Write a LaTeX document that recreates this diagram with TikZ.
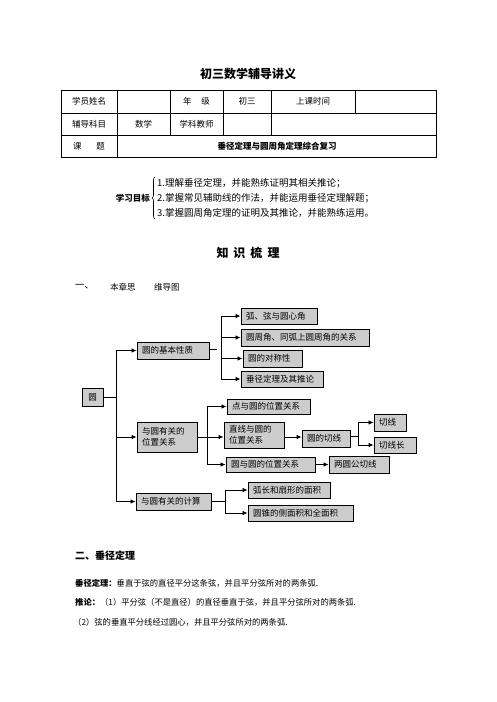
\documentclass[tikz,border=0pt]{standalone}
\usepackage{fontspec}
\newfontfamily\cjk{Noto Sans CJK SC}
\usetikzlibrary{arrows.meta,decorations.pathreplacing}
\tikzset{
  box/.style={draw, fill=gray!40, line width=0.9pt, inner xsep=5pt, inner ysep=0pt, align=left, font=\cjk\fontsize{8.5}{11}\selectfont},
  arr/.style={-{Latex[length=5pt,width=4.5pt]}, line width=0.8pt},
  ln/.style={line width=0.8pt},
  tbl/.style={line width=0.8pt},
  ttxt/.style={font=\cjk\fontsize{8.5}{10}\selectfont, inner sep=0pt},
  btxt/.style={font=\cjk\fontsize{8.3}{10}\selectfont, inner sep=0pt, anchor=west}
}
\begin{document}
\begin{tikzpicture}[x=1pt,y=-1pt]
\useasboundingbox[fill=white] (0,0) rectangle (496,702);

% title
\node[font=\cjk\bfseries\fontsize{12}{14}\selectfont] (title) at (248,74) {初三数学辅导讲义};

% table
\draw[tbl] (61,90) rectangle (436,157);
\draw[tbl] (61,113) -- (436,113);
\draw[tbl] (61,135) -- (436,135);
\draw[tbl] (117,90) -- (117,157);
\draw[tbl] (170,90) -- (170,135);
\draw[tbl] (223,90) -- (223,135);
\draw[tbl] (271,90) -- (271,135);
\draw[tbl] (355,90) -- (355,113);
\node[ttxt] (t11) at (89,101.5) {学员姓名};
\node[ttxt] (t13) at (196.5,101.5) {年\hspace{10pt}级};
\node[ttxt] (t14) at (247,101.5) {初三};
\node[ttxt] (t15) at (313,101.5) {上课时间};
\node[ttxt] (t21) at (89,124) {辅导科目};
\node[ttxt] (t22) at (143.5,124) {数学};
\node[ttxt] (t23) at (196.5,124) {学科教师};
\node[ttxt] (t31) at (89,146) {课\hspace{15pt}题};
\node[ttxt, font=\cjk\bfseries\fontsize{8.5}{10}\selectfont] (t32) at (277,146) {垂径定理与圆周角定理综合复习};

% objectives
\node[font=\cjk\bfseries\fontsize{8.5}{10}\selectfont, anchor=east, inner sep=0pt] (goal) at (150,198) {学习目标};
\draw[line width=0.6pt, decorate, decoration={brace, amplitude=3pt}] (155,219) -- (155,177);
\node[font=\cjk\fontsize{9.5}{11}\selectfont, anchor=west, inner sep=0pt] (g1) at (157,183) {1.理解垂径定理，并能熟练证明其相关推论；};
\node[font=\cjk\fontsize{9.5}{11}\selectfont, anchor=west, inner sep=0pt] (g2) at (157,198) {2.掌握常见辅助线的作法，并能运用垂径定理解题；};
\node[font=\cjk\fontsize{9.5}{11}\selectfont, anchor=west, inner sep=0pt] (g3) at (157,213) {3.掌握圆周角定理的证明及其推论，并能熟练运用。};

\node[font=\cjk\bfseries\fontsize{12}{14}\selectfont] (zs) at (248,253) {知\hspace{5pt}识\hspace{5pt}梳\hspace{5pt}理};

% section one
\node[font=\cjk\fontsize{9.5}{11}\selectfont, anchor=west, inner sep=0pt] (s1) at (75,287) {一、};
\node[font=\cjk\fontsize{8.5}{10}\selectfont, anchor=west, inner sep=0pt] (s1a) at (110,287) {本章思};
\node[font=\cjk\fontsize{8.5}{10}\selectfont, anchor=west, inner sep=0pt] (s1b) at (154,287) {维导图};

% mind map nodes
\node[box, minimum width=21pt, minimum height=18pt, align=center, inner xsep=0pt] (yuan) at (92.5,397) {圆};
\node[box, text width=62pt, minimum height=17pt] (jiben) at (173,350.5) {圆的基本性质};
\node[box, text width=50pt, minimum height=30pt] (weizhi) at (167,437) {与圆有关的\\位置关系};
\node[box, text width=65pt, minimum height=17pt] (jisuan) at (173.5,501.5) {与圆有关的计算};

\node[box, text width=66pt, minimum height=16pt] (hu) at (279,316) {弧、弦与圆心角};
\node[box, text width=118pt, minimum height=17pt] (zhou) at (305,337.5) {圆周角、同弧上圆周角的关系};
\node[box, text width=49pt, minimum height=17pt] (dui) at (272.5,358.5) {圆的对称性};
\node[box, text width=72pt, minimum height=16pt] (chui) at (282,379) {垂径定理及其推论};

\node[box, text width=73pt, minimum height=15pt] (dian) at (268.5,406.5) {点与圆的位置关系};
\node[box, text width=50pt, minimum height=26pt] (zhixian) at (254,435) {直线与圆的\\位置关系};
\node[box, text width=79pt, minimum height=15pt] (yuanyu) at (270.5,464.5) {圆与圆的位置关系};
\node[box, text width=38pt, minimum height=17pt] (qxA) at (326,438.5) {圆的切线};
\node[box, text width=22pt, minimum height=17pt] (qx) at (390,422.5) {切线};
\node[box, text width=32pt, minimum height=16pt] (qxc) at (395,445) {切线长};
\node[box, text width=50pt, minimum height=17pt] (gqx) at (359,464.5) {两圆公切线};

\node[box, text width=72pt, minimum height=16pt] (huchang) at (289,490) {弧长和扇形的面积};
\node[box, text width=95pt, minimum height=16pt] (zhui) at (300.5,513) {圆锥的侧面积和全面积};

% connectors
\coordinate (T) at (116.5,397);
\draw[ln] (yuan.east) -- (T);
\draw[arr] (T) |- (jiben);
\draw[arr] (T) |- (weizhi);
\draw[arr] (T) |- (jisuan);

\coordinate (Jg) at (217,349.5);
\draw[ln] (jiben.east |- Jg) -- (Jg);
\coordinate (J) at (221,349.5);
\draw[arr] (J) |- (hu);
\draw[arr] (J) |- (zhou);
\draw[arr] (J) |- (dui);
\draw[arr] (J) |- (chui);

\coordinate (W) at (207,437);
\draw[ln] (weizhi.east) -- (W);
\draw[arr] (W) |- (dian);
\draw[arr] (W) -- (zhixian.west |- W);
\draw[arr] (W) |- (yuanyu);
\draw[arr] (zhixian.east |- W) -- (qxA.west |- W);

\coordinate (Q) at (358,436);
\draw[ln] (qxA.east |- Q) -- (Q);
\draw[arr] (Q) |- (qx);
\draw[arr] (Q) |- (qxc);
\draw[arr] (yuanyu.east) -- (gqx.west);

\coordinate (C) at (225,501.5);
\draw[ln] (jisuan.east) -- (C);
\draw[arr] (C) |- (huchang);
\draw[arr] (C) |- (zhui);

% section two
\node[font=\cjk\bfseries\fontsize{10}{12}\selectfont, anchor=west, inner sep=0pt] (s2) at (75,556) {二、垂径定理};
\node[btxt] (p1) at (75,583) {{\bfseries 垂径定理：}垂直于弦的直径平分这条弦，并且平分弦所对的两条弧.};
\node[btxt] (p2) at (75,602) {{\bfseries 推论：}（1）平分弦（不是直径）的直径垂直于弦，并且平分弦所对的两条弧.};
\node[btxt] (p3) at (73,622) {（2）弦的垂直平分线经过圆心，并且平分弦所对的两条弧.};
\end{tikzpicture}
\end{document}
